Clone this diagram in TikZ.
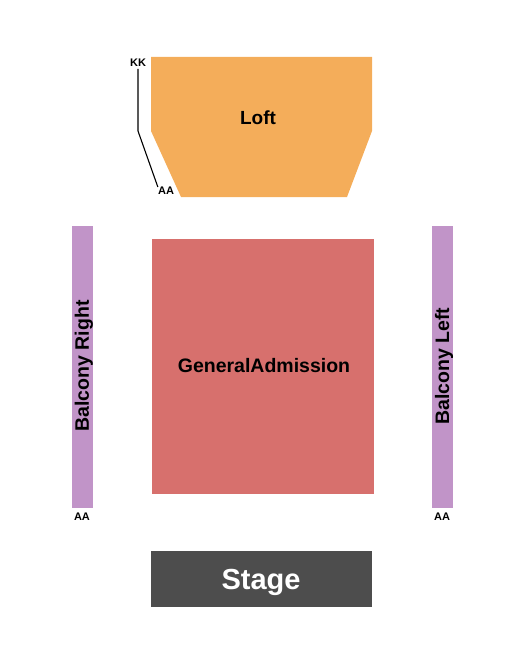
\documentclass[tikz,border=0pt]{standalone}
\usepackage{fontspec}
\setmainfont{Liberation Sans}
\definecolor{loftc}{HTML}{F4AD5A}
\definecolor{gac}{HTML}{D7706D}
\definecolor{balc}{HTML}{C194C8}
\definecolor{stagec}{HTML}{4D4D4D}

\begin{document}
\begin{tikzpicture}[x=1pt,y=-1pt, every node/.style={inner sep=0pt,font=\bfseries}]
  % -=-=-=-=- FRAME -=-=-=-=-
  \useasboundingbox (0,0) rectangle (525,650);
  % -=-=-=-=- LOFT -=-=-=-=-
  \fill[loftc] (151,57) -- (372,57) -- (372,131) -- (347,197) -- (181,197) -- (151,131) -- cycle;
  \node (loft) at (258,118) {\fontsize{19}{19}\selectfont Loft};
  \node (kk) at (138,63) {\fontsize{11}{11}\selectfont KK};
  \node (aa) at (166,191) {\fontsize{11}{11}\selectfont AA};
  \coordinate (bend) at (138,131);
  \draw[line width=1.1pt] (kk.south) ++(0,2) -- (bend) -- (aa.north west);
  % -=-=-=-=- GENERAL ADMISSION -=-=-=-=-
  \fill[gac] (152,239) rectangle (374,494);
  \node (ga) at (264,366) {\fontsize{19.5}{19.5}\selectfont GeneralAdmission};
  % -=-=-=-=- BALCONIES -=-=-=-=-
  \fill[balc] (72,226) rectangle (93,508);
  \fill[balc] (432,226) rectangle (453,508);
  \node[rotate=90] (br) at (84,366) {\fontsize{19.5}{19.5}\selectfont Balcony Right};
  \node[rotate=90] (bl) at (444,366) {\fontsize{19.5}{19.5}\selectfont Balcony Left};
  \node (aar) at (82,517) {\fontsize{11}{11}\selectfont AA};
  \node (aal) at (442,517) {\fontsize{11}{11}\selectfont AA};
  % -=-=-=-=- STAGE -=-=-=-=-
  \fill[stagec] (151,551) rectangle (372,607);
  \node[text=white] (stage) at (261,582) {\fontsize{29}{29}\selectfont Stage};
\end{tikzpicture}
\end{document}
